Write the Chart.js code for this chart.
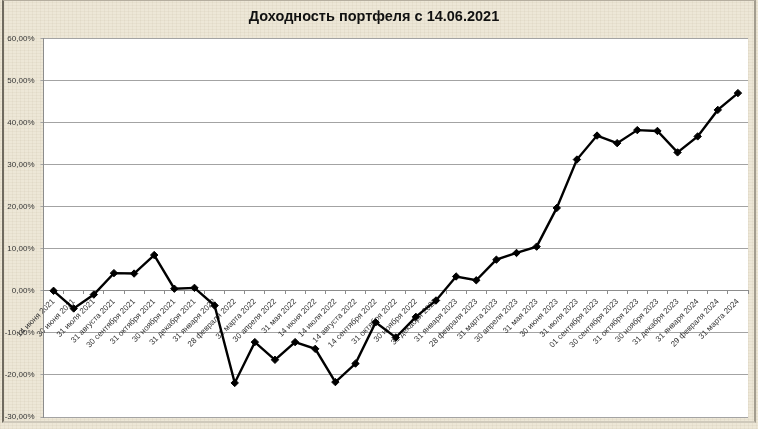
<!DOCTYPE html>
<html lang="ru">
<head>
<meta charset="utf-8">
<title>Доходность портфеля</title>
<script src="https://cdn.jsdelivr.net/npm/chart.js@4.4.0/dist/chart.umd.min.js"></script>
<style>
    html, body {
        margin: 0;
        padding: 0;
        width: 758px;
        height: 429px;
        overflow: hidden;
    }
    body {
        background-color: #ede7d7;
        background-image:
            repeating-linear-gradient(0deg, rgba(120, 100, 60, 0.05) 0 1px, transparent 1px 3px),
            repeating-linear-gradient(90deg, rgba(120, 100, 60, 0.05) 0 1px, transparent 1px 4px);
    }
    .frame {
        position: absolute;
        left: 2px;
        top: 0;
        width: 750px;
        height: 420px;
        border-left: 2px solid #6f6a5f;
        border-top: 1px solid #b5ae9f;
        border-right: 2px solid #a39d8f;
        border-bottom: 2px solid #cfc9bb;
    }
    #chart {
        position: absolute;
        left: 0;
        top: 0;
    }
</style>
</head>
<body>
<div class="frame"></div>
<canvas id="chart" width="758" height="429"></canvas>
<script>
const categories = [
    '14 июня 2021', '30 июня 2021', '31 июля 2021', '31 августа 2021', '30 сентября 2021',
    '31 октября 2021', '30 ноября 2021', '31 декабря 2021', '31 января 2022', '28 февраля 2022',
    '31 марта 2022', '30 апреля 2022', '31 мая 2022', '14 июня 2022', '14 июля 2022',
    '14 августа 2022', '14 сентября 2022', '31 октября 2022', '30 ноября 2022', '31 декабря 2022',
    '31 января 2023', '28 февраля 2023', '31 марта 2023', '30 апреля 2023', '31 мая 2023',
    '30 июня 2023', '31 июля 2023', '01 сентября 2023', '30 сентября 2023', '31 октября 2023',
    '30 ноября 2023', '31 декабря 2023', '31 января 2024', '29 февраля 2024', '31 марта 2024'
];

// доходность, %
const returns = [
    0.0, -4.2, -0.9, 4.2, 4.1,
    8.5, 0.5, 0.7, -3.5, -21.9,
    -12.2, -16.4, -12.2, -13.8, -21.7,
    -17.3, -7.5, -11.1, -6.2, -2.3,
    3.4, 2.5, 7.4, 9.0, 10.5,
    19.7, 31.2, 36.9, 35.1, 38.2,
    38.0, 32.9, 36.7, 43.0, 47.0
];

const yMin = -30;
const yMax = 60;
const yStep = 10;

const plotBackground = {
    id: 'plotBackground',
    beforeDraw(chart) {
        const { ctx, chartArea } = chart;
        ctx.save();
        ctx.fillStyle = '#ffffff';
        ctx.fillRect(chartArea.left, chartArea.top, chartArea.right - chartArea.left, chartArea.bottom - chartArea.top);
        ctx.restore();
    }
};

const ctx = document.getElementById('chart').getContext('2d');
const chart = new Chart(ctx, {
    type: 'line',
    data: {
        labels: categories,
        datasets: [{
            label: 'Доходность',
            data: returns,
            borderColor: '#000000',
            backgroundColor: '#000000',
            borderWidth: 2.4,
            tension: 0,
            pointStyle: 'rectRot',
            pointRadius: 3.7,
            pointBackgroundColor: '#000000',
            pointBorderColor: '#000000',
            pointBorderWidth: 1,
            clip: false
        }]
    },
    options: {
        responsive: false,
        animation: false,
        devicePixelRatio: 1,
        layout: {
            padding: {
                left: 0,
                right: 10,
                top: 0,
                bottom: 12
            }
        },
        plugins: {
            legend: {
                display: false
            },
            tooltip: {
                enabled: false
            },
            title: {
                display: true,
                text: 'Доходность портфеля с 14.06.2021',
                color: '#111111',
                font: {
                    family: '"Liberation Sans", Arial, sans-serif',
                    size: 14.5,
                    weight: 'bold'
                },
                padding: {
                    top: 8,
                    bottom: 13
                }
            }
        },
        scales: {
            x: {
                type: 'category',
                offset: true,
                position: { y: 0 },
                afterFit: (scale) => {
                    scale.height = 0;
                    scale.paddingLeft = 0;
                    scale.paddingRight = 0;
                },
                grid: {
                    offset: true,
                    drawOnChartArea: false,
                    drawTicks: true,
                    tickLength: 3,
                    color: '#8c8c8c'
                },
                border: {
                    color: '#8c8c8c',
                    width: 1
                },
                ticks: {
                    autoSkip: false,
                    minRotation: 45,
                    maxRotation: 45,
                    padding: 3,
                    color: '#333333',
                    font: {
                        family: '"Liberation Sans", Arial, sans-serif',
                        size: 8
                    }
                }
            },
            y: {
                min: yMin,
                max: yMax,
                afterFit: (scale) => {
                    scale.width = 43.5;
                },
                grid: {
                    color: '#a3a3a3',
                    tickLength: 3
                },
                border: {
                    color: '#8c8c8c',
                    width: 1
                },
                ticks: {
                    stepSize: yStep,
                    padding: 6,
                    color: '#333333',
                    font: {
                        family: '"Liberation Sans", Arial, sans-serif',
                        size: 8
                    },
                    callback: (value) => value.toFixed(2).replace('.', ',') + '%'
                }
            }
        }
    },
    plugins: [plotBackground]
});
</script>
</body>
</html>
